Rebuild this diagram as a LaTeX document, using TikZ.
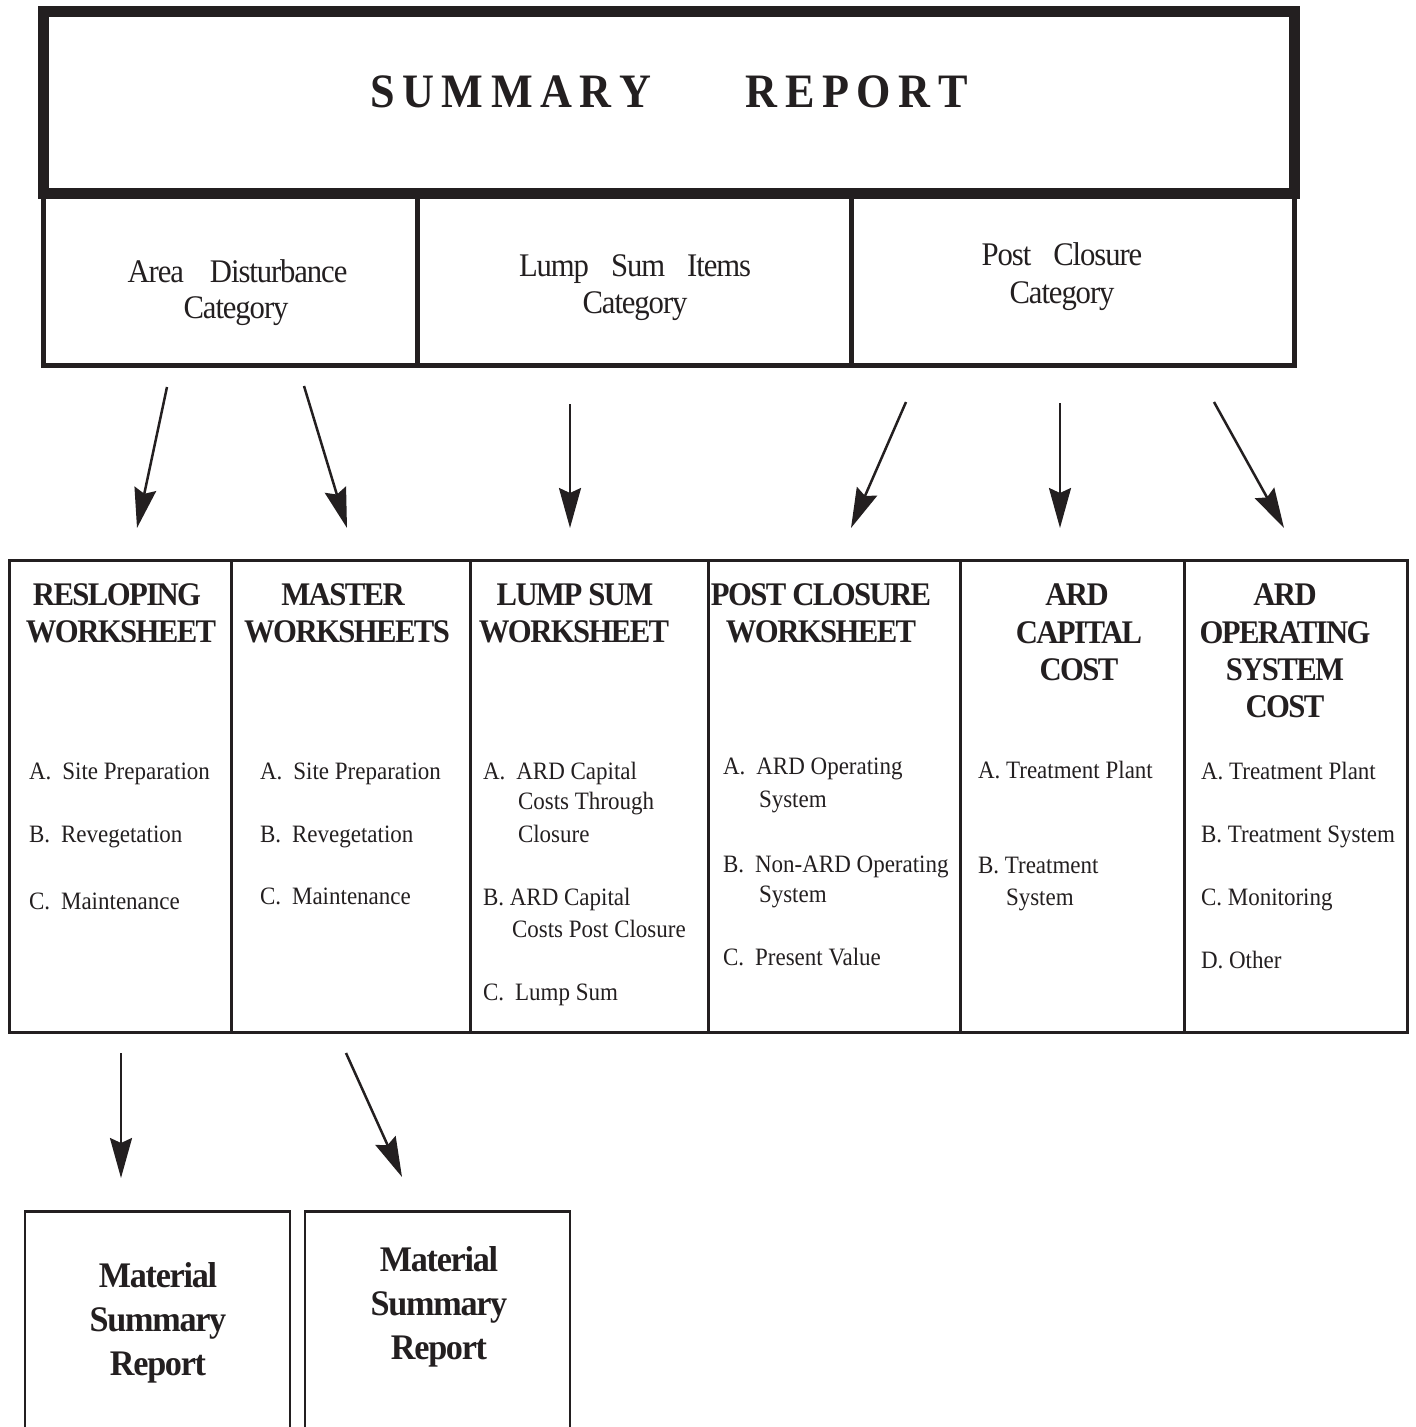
\documentclass[tikz,border=0pt]{standalone}
\usepackage{fontspec}
\setmainfont{Liberation Serif}
\newfontfamily\catf[FakeStretch=0.93,LetterSpace=-3.3]{Liberation Serif}
\newfontfamily\headf[FakeStretch=0.93,LetterSpace=-4.8]{Liberation Serif}
\newfontfamily\itemf[FakeStretch=0.92]{Liberation Serif}
\newfontfamily\botf[FakeStretch=0.95,LetterSpace=-3.6]{Liberation Serif}
\newfontfamily\titf[FakeStretch=0.92]{Liberation Serif}
\usetikzlibrary{arrows.meta}
\definecolor{ink}{RGB}{35,31,32}
\begin{document}
\begin{tikzpicture}[x=1pt,y=-1pt,
  every node/.style={inner sep=0pt, outer sep=0pt, text=ink},
  box/.style={draw=ink, anchor=north west},
  cat/.style={anchor=base, font=\catf\fontsize{33}{36}\selectfont},
  head/.style={anchor=base, font=\headf\bfseries\fontsize{33}{37}\selectfont},
  item/.style={anchor=base west, font=\itemf\fontsize{25}{30}\selectfont},
  bot/.style={anchor=base, font=\botf\bfseries\fontsize{36}{44}\selectfont},
  arr/.style={draw=ink, line width=2.5pt, -{Stealth[length=40pt,width=22pt,inset=5pt]}},
  ]
\useasboundingbox (0,0) rectangle (1416,1427);

% category row
\node[box, line width=5pt, minimum width=373.5pt, minimum height=172pt] (cat1) at (43.5,193) {};
\node[box, line width=5pt, minimum width=434pt, minimum height=172pt] (cat2) at (417,193) {};
\node[box, line width=5pt, minimum width=443.5pt, minimum height=172pt] (cat3) at (851,193) {};
% summary box
\node[box, line width=11pt, minimum width=1251pt, minimum height=182pt] (sumbox) at (43.5,11) {};
\node[anchor=base, font=\titf\bfseries\fontsize{48}{50}\selectfont] (title) at (669,107)
  {S\kern7.5pt U\kern7.5pt M\kern7.5pt M\kern7.5pt A\kern7.5pt R\kern7.5pt Y\hspace{95pt}R\kern7.5pt E\kern7.5pt P\kern7.5pt O\kern7.5pt R\kern7.5pt T};

% category texts
\node[cat] (c1a) at (237.5,282) {Area\hspace{26pt}Disturbance};
\node[cat] (c1b) at (236,318) {Category};
\node[cat] (c2a) at (635,276) {Lump\hspace{22pt}Sum\hspace{22pt}Items};
\node[cat] (c2b) at (635,313) {Category};
\node[cat] (c3a) at (1062,265) {Post\hspace{22pt}Closure};
\node[cat] (c3b) at (1062,303) {Category};

% worksheet row
\node[box, line width=3pt, minimum width=222.5pt, minimum height=471.5pt] (w1) at (9,560.5) {};
\node[box, line width=3pt, minimum width=238.5pt, minimum height=471.5pt] (w2) at (231.5,560.5) {};
\node[box, line width=3pt, minimum width=238pt, minimum height=471.5pt] (w3) at (470,560.5) {};
\node[box, line width=3pt, minimum width=252pt, minimum height=471.5pt] (w4) at (708,560.5) {};
\node[box, line width=3pt, minimum width=224pt, minimum height=471.5pt] (w5) at (960,560.5) {};
\node[box, line width=3pt, minimum width=223pt, minimum height=471.5pt] (w6) at (1184,560.5) {};

% headings
\node[head] (h1a) at (117,605) {RESLOPING};
\node[head] (h1b) at (121,642) {WORKSHEET};
\node[head] (h2a) at (343,605) {MASTER};
\node[head] (h2b) at (347,642) {WORKSHEETS};
\node[head] (h3a) at (575,605) {LUMP SUM};
\node[head] (h3b) at (574,642) {WORKSHEET};
\node[head] (h4a) at (821,605) {POST CLOSURE};
\node[head] (h4b) at (821,642) {WORKSHEET};
\node[head] (h5a) at (1077,605) {ARD};
\node[head] (h5b) at (1079,643) {CAPITAL};
\node[head] (h5c) at (1079,680) {COST};
\node[head] (h6a) at (1285,605) {ARD};
\node[head] (h6b) at (1285,643) {OPERATING};
\node[head] (h6c) at (1285,680) {SYSTEM};
\node[head] (h6d) at (1285,717) {COST};

% items
\node[item] (i1a) at (29,779) {A.\hspace{11pt}Site Preparation};
\node[item] (i1b) at (29,842) {B.\hspace{11pt}Revegetation};
\node[item] (i1c) at (29,909) {C.\hspace{11pt}Maintenance};

\node[item] (i2a) at (260,779) {A.\hspace{11pt}Site Preparation};
\node[item] (i2b) at (260,842) {B.\hspace{11pt}Revegetation};
\node[item] (i2c) at (260,904) {C.\hspace{11pt}Maintenance};

\node[item] (i3a) at (483,779) {A.\hspace{11pt}ARD Capital};
\node[item] (i3a2) at (518,809) {Costs Through};
\node[item] (i3a3) at (518,842) {Closure};
\node[item] (i3b) at (483,905) {B. ARD Capital};
\node[item] (i3b2) at (512,937) {Costs Post Closure};
\node[item] (i3c) at (483,1000) {C.\hspace{11pt}Lump Sum};

\node[item] (i4a) at (723,774) {A.\hspace{11pt}ARD Operating};
\node[item] (i4a2) at (759,807) {System};
\node[item] (i4b) at (723,872) {B.\hspace{11pt}Non-ARD Operating};
\node[item] (i4b2) at (759,902) {System};
\node[item] (i4c) at (723,965) {C.\hspace{11pt}Present Value};

\node[item] (i5a) at (978,778) {A. Treatment Plant};
\node[item] (i5b) at (978,873) {B. Treatment};
\node[item] (i5b2) at (1006,905) {System};

\node[item] (i6a) at (1201,779) {A. Treatment Plant};
\node[item] (i6b) at (1201,842) {B. Treatment System};
\node[item] (i6c) at (1201,905) {C. Monitoring};
\node[item] (i6d) at (1201,968) {D. Other};

% bottom boxes (open at the bottom edge of the page)
\coordinate (b1bl) at (25,1427);
\coordinate (b1tl) at (25,1211.5);
\coordinate (b1tr) at (290,1211.5);
\coordinate (b1br) at (290,1427);
\coordinate (b2bl) at (305,1427);
\coordinate (b2tl) at (305,1211.5);
\coordinate (b2tr) at (570,1211.5);
\coordinate (b2br) at (570,1427);
\draw[ink, line width=2.5pt] (b1bl) -- (b1tl) -- (b1tr) -- (b1br);
\draw[ink, line width=2.5pt] (b2bl) -- (b2tl) -- (b2tr) -- (b2br);

\node[bot] (m1a) at (158,1287) {Material};
\node[bot] (m1b) at (158,1331) {Summary};
\node[bot] (m1c) at (158,1375) {Report};
\node[bot] (m2a) at (439,1271) {Material};
\node[bot] (m2b) at (439,1315) {Summary};
\node[bot] (m2c) at (439,1359) {Report};

% arrows
\coordinate (s1) at (167,387);  \coordinate (t1) at (137,528);
\coordinate (s2) at (304,386);  \coordinate (t2) at (347,528);
\coordinate (s3) at (570,404);  \coordinate (t3) at (570,528);
\coordinate (s4) at (906,402);  \coordinate (t4) at (851,528);
\coordinate (s5) at (1060,403); \coordinate (t5) at (1060,528);
\coordinate (s6) at (1214,402); \coordinate (t6) at (1284,528);
\coordinate (s7) at (121,1053); \coordinate (t7) at (121,1178);
\coordinate (s8) at (346,1053); \coordinate (t8) at (402,1177);
\foreach \k in {1,...,8} { \draw[arr] (s\k) -- (t\k); }
\end{tikzpicture}
\end{document}
